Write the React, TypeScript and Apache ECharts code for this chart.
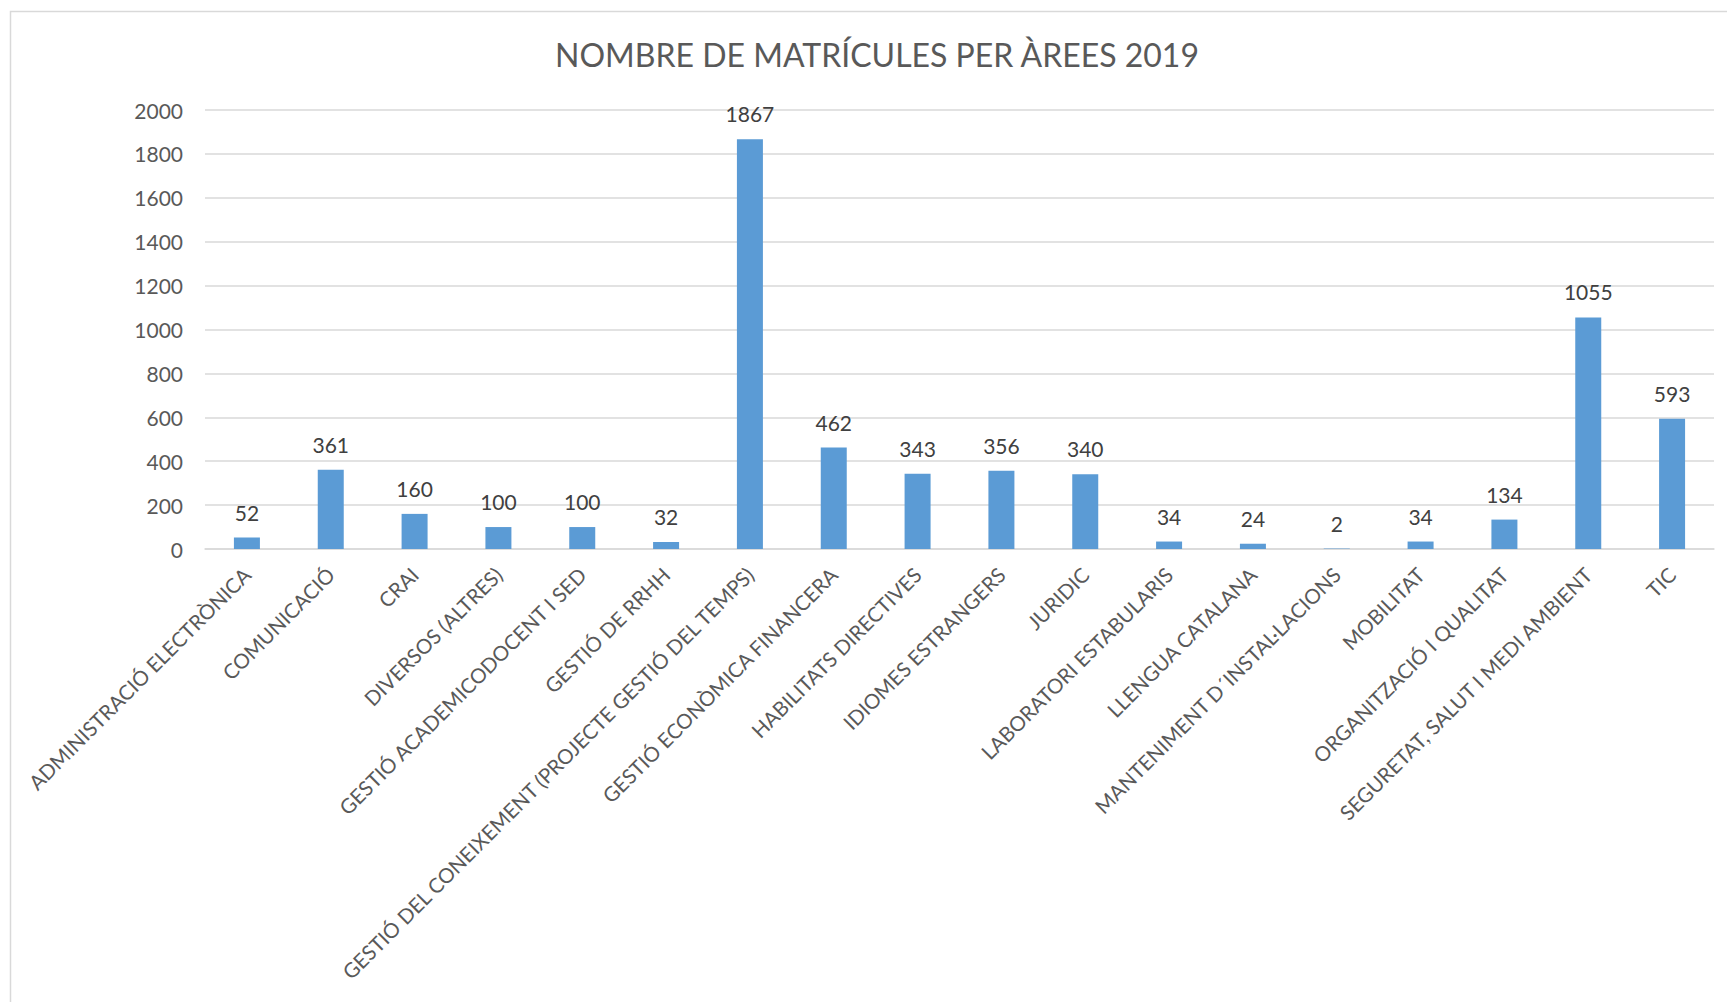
import React, { useEffect, useRef } from "react";
import * as echarts from "echarts";

const titleText = "NOMBRE DE MATRÍCULES PER ÀREES 2019";

const categories = [
  "ADMINISTRACIÓ ELECTRÒNICA",
  "COMUNICACIÓ",
  "CRAI",
  "DIVERSOS (ALTRES)",
  "GESTIÓ ACADEMICODOCENT I SED",
  "GESTIÓ DE RRHH",
  "GESTIÓ DEL CONEIXEMENT (PROJECTE GESTIÓ DEL TEMPS)",
  "GESTIÓ ECONÒMICA FINANCERA",
  "HABILITATS DIRECTIVES",
  "IDIOMES ESTRANGERS",
  "JURIDIC",
  "LABORATORI ESTABULARIS",
  "LLENGUA CATALANA",
  "MANTENIMENT D´INSTAL·LACIONS",
  "MOBILITAT",
  "ORGANITZACIÓ I QUALITAT",
  "SEGURETAT, SALUT I MEDI AMBIENT",
  "TIC",
];

const values = [52, 361, 160, 100, 100, 32, 1867, 462, 343, 356, 340, 34, 24, 2, 34, 134, 1055, 593];

const yMin = 0;
const yMax = 2000;
const yInterval = 200;

const FONT = "Lato, 'Open Sans', sans-serif";

export default function App() {
  const ref = useRef<HTMLDivElement>(null);

  useEffect(() => {
    if (!ref.current) return;
    const chart = echarts.init(ref.current, null, { renderer: "svg" });
    chart.setOption({
      animation: false,
      backgroundColor: "#ffffff",
      textStyle: { fontFamily: FONT },
      graphic: [
        {
          type: "rect",
          shape: { x: 10.5, y: 11.5, width: 1760, height: 1040 },
          style: { fill: "none", stroke: "#d9d9d9", lineWidth: 1.5 },
          silent: true,
          z: -1,
        },
        {
          type: "text",
          x: 877,
          y: 70,
          style: {
            text: titleText,
            fontFamily: FONT,
            fontSize: 32,
            fill: "#595959",
            align: "center",
            verticalAlign: "bottom",
          },
        },
      ],
      grid: { left: 205, right: 13, top: 110, bottom: 453, containLabel: false },
      xAxis: {
        type: "category",
        data: categories,
        axisLine: { show: true, lineStyle: { color: "#d9d9d9", width: 1.5 } },
        axisTick: { show: false },
        axisLabel: {
          interval: 0,
          rotate: 45,
          margin: 22,
          color: "#595959",
          fontFamily: FONT,
          fontSize: 20.5,
        },
      },
      yAxis: {
        type: "value",
        min: yMin,
        max: yMax,
        interval: yInterval,
        axisLine: { show: false },
        axisTick: { show: false },
        splitLine: { show: true, lineStyle: { color: "#d9d9d9", width: 1.5 } },
        axisLabel: {
          margin: 22,
          color: "#595959",
          fontFamily: FONT,
          fontSize: 21,
          formatter: (v: number) => String(v),
        },
      },
      series: [
        {
          type: "bar",
          data: values,
          barWidth: 26,
          itemStyle: { color: "#5b9bd5" },
          label: {
            show: true,
            position: "top",
            distance: 15,
            color: "#404040",
            fontFamily: FONT,
            fontSize: 21,
          },
        },
      ],
    });
    return () => chart.dispose();
  }, []);

  return (
    <div
      ref={ref}
      style={{ position: "fixed", left: 0, top: 0, width: 1727, height: 1002, background: "#fff" }}
    />
  );
}
